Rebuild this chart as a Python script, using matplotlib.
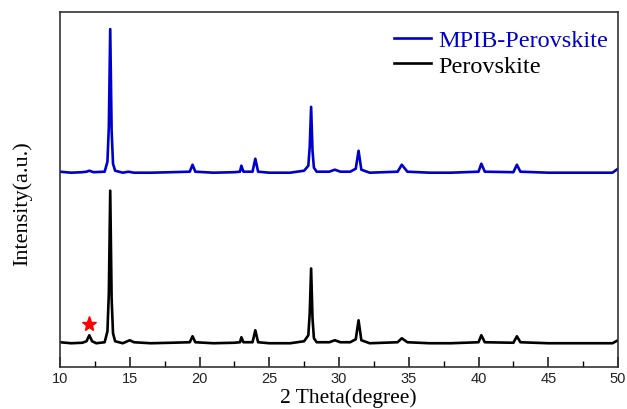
import matplotlib
matplotlib.use("Agg")
import matplotlib.pyplot as plt
from matplotlib.ticker import MultipleLocator
import numpy as np

# Intensidades (unidades arbitrárias, acima da linha de base)
two_theta_pero = [10.0, 10.8, 11.6, 11.9, 12.1, 12.3, 12.6, 13.2, 13.4, 13.5, 13.6, 13.7,
                  13.8, 13.95, 14.5, 15.0, 15.3, 16.5, 18.0, 19.3, 19.5, 19.7, 21.0, 22.5,
                  22.9, 23.0, 23.15, 23.8, 24.0, 24.2, 25.0, 26.5, 27.5, 27.8, 27.9, 28.0,
                  28.1, 28.2, 28.4, 29.3, 29.7, 30.1, 30.8, 31.2, 31.4, 31.6, 32.2, 34.2,
                  34.5, 34.9, 36.5, 38.0, 40.0, 40.2, 40.45, 42.5, 42.75, 43.0, 45.0, 47.0,
                  49.6, 50.0]
int_pero = [1, 0, 0.5, 2, 8, 2, 0, 1, 12, 50, 153, 45,
            10, 2, 0, 3, 1, 0, 0.5, 1, 7, 1, 0, 0.5,
            1, 6, 1, 1, 13, 1, 0, 0, 2, 8, 30, 75,
            25, 5, 1, 1, 3, 1, 1, 4, 23, 3, 0, 1,
            5, 1, 0, 0, 1, 8, 1, 0.5, 7, 1, 0, 0,
            0, 3]

two_theta_mpib = [10.0, 10.8, 11.6, 11.9, 12.1, 12.4, 13.2, 13.4, 13.5, 13.6, 13.7, 13.8,
                  13.95, 14.5, 14.9, 15.3, 16.5, 18.0, 19.3, 19.5, 19.7, 21.0, 22.5, 22.9,
                  23.0, 23.15, 23.8, 24.0, 24.2, 25.0, 26.5, 27.5, 27.8, 27.9, 28.0, 28.1,
                  28.2, 28.4, 29.3, 29.7, 30.1, 30.8, 31.2, 31.4, 31.6, 32.2, 34.2, 34.5,
                  34.9, 36.5, 38.0, 40.0, 40.2, 40.45, 42.5, 42.75, 43.0, 45.0, 47.0, 49.6,
                  50.0]
int_mpib = [1, 0, 0.5, 1, 2, 0.5, 1, 11, 46, 144, 42, 9,
            2, 0, 1, 0, 0, 0.5, 1, 8, 1, 0, 0.5, 1,
            7, 1, 1, 14, 1, 0, 0, 2, 7, 26, 66, 22,
            5, 1, 1, 3, 1, 1, 4, 22, 3, 0, 1, 8,
            1, 0, 0, 1, 9, 1, 0.5, 8, 1, 0, 0, 0,
            4]

base_pero = 24
base_mpib = 195
star_pos = (12.1, 43)

fig = plt.figure(figsize=(6.27, 4.10), dpi=100)
ax = fig.add_axes([0.0957, 0.102, 0.89, 0.866])

ax.plot(two_theta_mpib, np.array(int_mpib) + base_mpib, color="#0000cc", lw=1.9,
        label="MPIB-Perovskite")
ax.plot(two_theta_pero, np.array(int_pero) + base_pero, color="black", lw=1.9,
        label="Perovskite")
ax.plot(*star_pos, marker="*", color="red", markersize=11, ls="none")

ax.set_xlim(10, 50)
ax.set_ylim(0, 356)
ax.set_yticks([])
ax.xaxis.set_major_locator(MultipleLocator(5))
ax.xaxis.set_minor_locator(MultipleLocator(2.5))
ax.tick_params(axis="x", which="major", direction="in", length=7, width=1.2,
               labelsize=10.5, colors="#222222", pad=3)
ax.tick_params(axis="x", which="minor", direction="in", length=4, width=1.0)
for lab in ax.get_xticklabels():
    lab.set_family("Liberation Sans")
for sp in ax.spines.values():
    sp.set_linewidth(1.2)
    sp.set_color("#333333")

ax.set_xlabel("2 Theta(degree)", family="Liberation Serif", fontsize=15.5)
ax.xaxis.set_label_coords(0.517, -0.056)
ax.set_ylabel("Intensity(a.u.)", family="Liberation Serif", fontsize=16)
ax.yaxis.set_label_coords(-0.05, 0.463)

leg = ax.legend(loc="upper right", bbox_to_anchor=(0.982, 0.952), frameon=False,
                prop={"family": "Liberation Serif", "size": 17.5},
                handlelength=1.5, handletextpad=0.3, labelspacing=0.15,
                borderaxespad=0, borderpad=0)
for txt, line in zip(leg.get_texts(), leg.get_lines()):
    txt.set_color(line.get_color())

fig.savefig("out.png", dpi=100)
